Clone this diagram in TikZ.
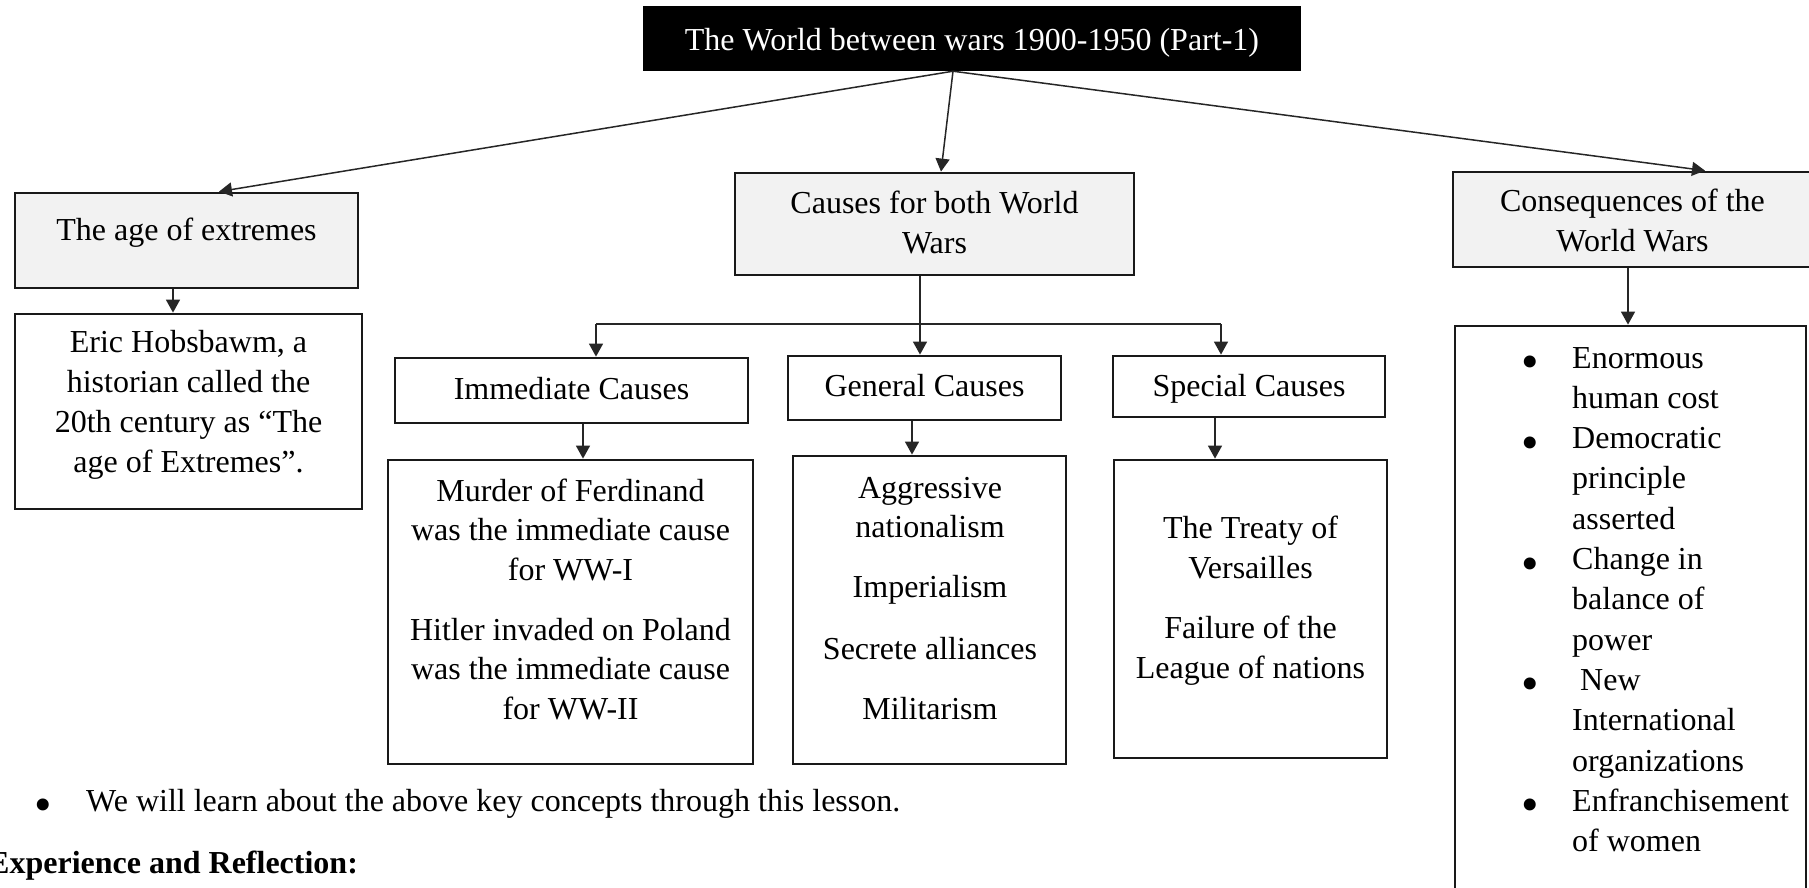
\documentclass[tikz,border=0pt]{standalone}
\usepackage{fontspec}
\setmainfont{Liberation Serif}
\usetikzlibrary{arrows.meta}
\newcommand{\bigbullet}{\raisebox{-10.5pt}{\fontsize{50}{50}\selectfont •}}
\begin{document}
\begin{tikzpicture}[x=1pt,y=-1pt,
  box/.style={draw=black!90, line width=2.8pt, inner sep=0pt, rectangle},
  greybox/.style={box, fill=black!5},
  txt/.style={font=\fontsize{32}{39.7}\selectfont, inner sep=0pt, align=center, anchor=base},
  ltxt/.style={font=\fontsize{32}{40.3}\selectfont, inner sep=0pt, align=left, anchor=base west},
  bul/.style={font=\fontsize{32}{40.3}\selectfont, inner sep=0pt, anchor=base},
  conn/.style={line width=1.5pt, draw=black!85},
  arr/.style={conn, -{Triangle[length=13pt,width=14pt]}}
]
\useasboundingbox (0,0) rectangle (1809,887);
\clip (0,0) rectangle (1809,887);

% boxes
\node[fill=black, inner sep=0pt, minimum width=658pt, minimum height=65pt] (title) at (972,38.5) {};
\node[greybox, minimum width=343pt, minimum height=95pt] (age) at (186.5,240.5) {};
\node[box, minimum width=347pt, minimum height=195pt] (eric) at (188.5,411.5) {};
\node[greybox, minimum width=399pt, minimum height=102pt] (causes) at (934.5,224) {};
\node[greybox, minimum width=362pt, minimum height=95pt] (cons) at (1634,219.5) {};
\node[box, minimum width=351pt, minimum height=574pt] (list) at (1630.5,613) {};
\node[box, minimum width=353pt, minimum height=65pt] (immediate) at (571.5,390.5) {};
\node[box, minimum width=273pt, minimum height=64pt] (general) at (924.5,388) {};
\node[box, minimum width=272pt, minimum height=61pt] (special) at (1249,386.5) {};
\node[box, minimum width=365pt, minimum height=304pt] (murder) at (570.5,612) {};
\node[box, minimum width=273pt, minimum height=308pt] (aggr) at (929.5,610) {};
\node[box, minimum width=273pt, minimum height=298pt] (treaty) at (1250.5,609) {};

% texts (anchor = baseline of the last line)
\node[txt, text=white] (titleT) at (972,50) {The World between wars 1900-1950 (Part-1)};
\node[txt] (ageT) at (186.5,240) {The age of extremes};
\node[txt] (ericT) at (188.5,472) {Eric Hobsbawm, a\\historian called the\\20th century as “The\\age of Extremes”.};
\node[txt] (causesT) at (934.5,253) {Causes for both World\\Wars};
\node[txt] (consT) at (1632.5,251.5) {Consequences of the\\World Wars};
\node[txt] (immediateT) at (571.5,399) {Immediate Causes};
\node[txt] (generalT) at (924.5,396) {General Causes};
\node[txt] (specialT) at (1249,396) {Special Causes};
\node[txt] (murderT) at (570.5,719.5) {Murder of Ferdinand\\was the immediate cause\\for WW-I\\[20pt]Hitler invaded on Poland\\was the immediate cause\\for WW-II};
\node[txt] (aggrT) at (930,719) {Aggressive\\nationalism\\[20pt]Imperialism\\[22pt]Secrete alliances\\[20pt]Militarism};
\node[txt] (treatyT) at (1250.5,678.5) {The Treaty of\\Versailles\\[21pt]Failure of the\\League of nations};

% consequences list
\node[bul] (b1) at (1530,368) {\bigbullet};
\node[ltxt] (i1) at (1572,408.3) {Enormous\\human cost};
\node[bul] (b2) at (1530,448.6) {\bigbullet};
\node[ltxt] (i2) at (1572,529.2) {Democratic\\principle\\asserted};
\node[bul] (b3) at (1530,569.5) {\bigbullet};
\node[ltxt] (i3) at (1572,650.1) {Change in\\balance of\\power};
\node[bul] (b4) at (1530,690.4) {\bigbullet};
\node[ltxt] (i4) at (1572,771) {\hspace*{8pt}New\\International\\organizations};
\node[bul] (b5) at (1530,811.3) {\bigbullet};
\node[ltxt] (i5) at (1572,851.6) {Enfranchisement\\of women};

% bottom text
\node[bul] (b0) at (43,811) {\bigbullet};
\node[ltxt] (learn) at (86,811) {We will learn about the above key concepts through this lesson.};
\node[ltxt, font=\fontsize{32}{39.7}\selectfont\bfseries] (exp) at (-12,873) {Experience and Reflection:};

% connectors
\coordinate (hub) at ([xshift=-19pt]title.south);
\draw[arr] (hub) -- ([xshift=32.5pt]age.north);
\draw[arr] (hub) -- ([xshift=6.5pt]causes.north);
\draw[arr] (hub) -- ([xshift=71pt]cons.north);

\draw[arr] ([xshift=-13.5pt]age.south) coordinate (s1) -- (s1 |- eric.north);
\draw[arr] ([xshift=-6pt]cons.south) coordinate (s2) -- (s2 |- list.north);

\draw[arr] ([xshift=-14.5pt]causes.south) coordinate (s3) -- (s3 |- general.north);
\coordinate (jL) at (596,324);
\coordinate (jR) at (1221,324);
\draw[conn] (jL) -- (jR);
\draw[arr] (jL) -- (jL |- immediate.north);
\draw[arr] (jR) -- (jR |- special.north);

\draw[arr] ([xshift=11.5pt]immediate.south) coordinate (s4) -- (s4 |- murder.north);
\draw[arr] ([xshift=-12.5pt]general.south) coordinate (s5) -- (s5 |- aggr.north);
\draw[arr] ([xshift=-34pt]special.south) coordinate (s6) -- (s6 |- treaty.north);
\end{tikzpicture}
\end{document}
